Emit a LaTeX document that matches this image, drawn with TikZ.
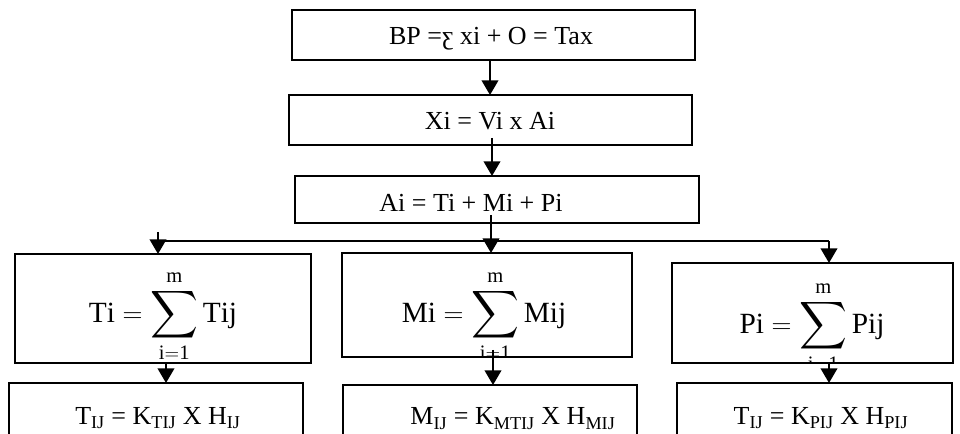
\documentclass[tikz,border=0pt]{standalone}
\usepackage{exscale}
\usepackage{graphicx}
\usepackage{fontspec}
\setmainfont{Liberation Serif}
\usetikzlibrary{arrows.meta}
% enlarged summation sign with limits above and below
\newcommand{\bigsigma}{\mathop{\scalebox{1.2}{$\displaystyle\sum$}}\limits}
\begin{document}
\begin{tikzpicture}[x=0.75pt,y=-0.75pt,
  frame/.style={draw,line width=1.4pt,inner sep=0pt,outer sep=0pt,anchor=north west},
  flow/.style={line width=1.4pt,-{Triangle[width=12.5pt,length=11pt]}},
  bus/.style={line width=1.4pt},
  toptext/.style={anchor=base,inner sep=0pt,font=\fontsize{19.5}{22}\selectfont},
  sumtext/.style={anchor=base,inner sep=0pt,font=\fontsize{22}{26}\selectfont},
  lowtext/.style={anchor=base,inner sep=0pt,font=\fontsize{19.5}{22}\selectfont}]
\useasboundingbox (0,0) rectangle (960,434);
\clip (0,0) rectangle (960,434);

% upper chain of boxes
\node[frame,minimum width={403*0.75pt},minimum height={50*0.75pt}] (bp) at (292,10) {};
\node[frame,minimum width={403*0.75pt},minimum height={50*0.75pt}] (xi) at (289,95) {};
\node[frame,minimum width={404*0.75pt},minimum height={47*0.75pt}] (ai) at (295,176) {};
\node[toptext] (bpt) at (491,45) {BP =ƹ xi + O = Tax};
\node[toptext] (xit) at (490,130) {Xi = Vi x Ai};
\node[toptext] (ait) at (471,212) {Ai = Ti + Mi + Pi};

% three summation boxes
\node[frame,minimum width={296*0.75pt},minimum height={109*0.75pt}] (ti) at (15,254) {};
\node[frame,minimum width={290*0.75pt},minimum height={104*0.75pt}] (mi) at (342,253) {};
\node[frame,minimum width={281*0.75pt},minimum height={100*0.75pt}] (pi) at (672,263) {};
\begin{scope}
  \clip (ti.south west) rectangle (ti.north east);
  \node[sumtext] (tis) at (163,323) {$\mathrm{Ti} = \bigsigma_{\mathrm{i=1}}^{\mathrm{m}} \mathrm{Tij}$};
\end{scope}
\begin{scope}
  \clip (mi.south west) rectangle (mi.north east);
  \node[sumtext] (mis) at (484,323) {$\mathrm{Mi} = \bigsigma_{\mathrm{i=1}}^{\mathrm{m}} \mathrm{Mij}$};
\end{scope}
\begin{scope}
  \clip (pi.south west) rectangle (pi.north east);
  \node[sumtext] (pis) at (812,334) {$\mathrm{Pi} = \bigsigma_{\mathrm{i=1}}^{\mathrm{m}} \mathrm{Pij}$};
\end{scope}

% lower boxes, running past the bottom edge
\node[frame,minimum width={294*0.75pt},minimum height={70*0.75pt}] (tij) at (9,383) {};
\node[frame,minimum width={294*0.75pt},minimum height={70*0.75pt}] (mij) at (343,385) {};
\node[frame,minimum width={275*0.75pt},minimum height={70*0.75pt}] (pij) at (677,383) {};
\node[lowtext] (tijt) at (158,424) {T\textsubscript{IJ} = K\textsubscript{TIJ} X H\textsubscript{IJ}};
\node[lowtext] (mijt) at (513,425) {M\textsubscript{IJ} = K\textsubscript{MTIJ} X H\textsubscript{MIJ}};
\node[lowtext] (pijt) at (821,424) {T\textsubscript{IJ} = K\textsubscript{PIJ} X H\textsubscript{PIJ}};

% connector anchors
\coordinate (c1) at (490,0);
\coordinate (c2s) at (492,138);
\coordinate (c3s) at (491,215);
\coordinate (busl) at (158,241);
\coordinate (busr) at (829,241);
\coordinate (stub) at (158,232);
\coordinate (c4) at (166,0);
\coordinate (c5s) at (493,350);
\coordinate (c6) at (829,0);

% vertical flow
\draw[flow] (bp.south -| c1) -- (xi.north -| c1);
\draw[flow] (c2s) -- (ai.north -| c2s);
\draw[flow] (c3s) -- (mi.north -| c3s);
% distribution bus
\draw[bus] (busl) -- (busr);
\draw[flow] (stub) -- (ti.north -| stub);
\draw[flow] (busr) -- (pi.north -| busr);
% into the lower boxes
\draw[flow] (ti.south -| c4) -- (tij.north -| c4);
\draw[flow] (c5s) -- (mij.north -| c5s);
\draw[flow] (pi.south -| c6) -- (pij.north -| c6);
\end{tikzpicture}
\end{document}
